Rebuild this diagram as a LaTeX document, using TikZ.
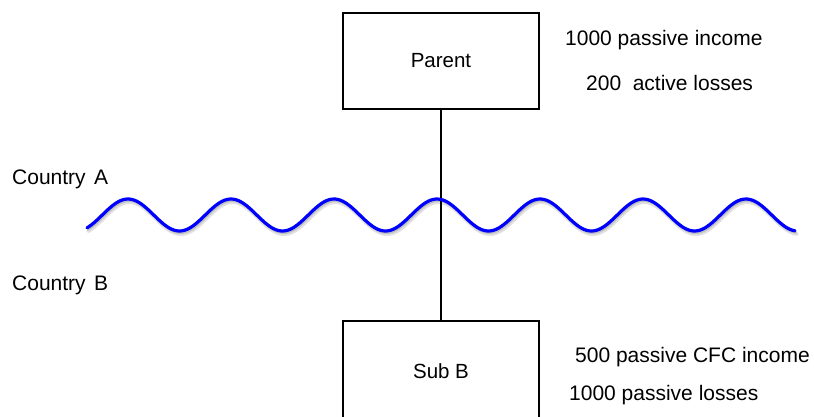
\documentclass[tikz,border=0pt]{standalone}
\usepackage{fontspec}
\setmainfont{Liberation Sans}
\begin{document}
\begin{tikzpicture}[x=1pt,y=-1pt,
  entity/.style={draw=black, line width=2pt, rectangle, minimum width=196pt, minimum height=96pt, inner sep=0pt, font=\fontsize{20.5}{24}\selectfont},
  note/.style={anchor=base west, inner sep=0pt, font=\fontsize{21}{25}\selectfont},
  link/.style={draw=black, line width=2pt},
  border/.style={draw=blue, line width=3.2pt, line cap=round, line join=round},
  bordershade/.style={draw=black, line width=4pt, line cap=round, opacity=0.12}]
  % canvas
  \useasboundingbox (0,0) rectangle (814,416);
  \clip (0,0) rectangle (814,416);

  % companies (the subsidiary box runs past the lower edge)
  \node[entity] (parent) at (441,60.7) {Parent};
  \node[entity, minimum height=100pt] (sub) at (441,370.7) {Sub B};

  % ownership link
  \draw[link] (parent.south) -- (sub.north);

  % border between the two countries, with a soft shadow (period 103, i.e. 360/103 deg per unit)
  \draw[bordershade, shift={(1.5,3)}] plot[domain=87:795, samples=300] (\x, {215-16*cos(3.49515*(\x-437))});
  \draw[bordershade, line width=2pt, opacity=0.15, shift={(1,2)}] plot[domain=87:795, samples=300] (\x, {215-16*cos(3.49515*(\x-437))});
  \draw[border] plot[domain=87:795, samples=300] (\x, {215-16*cos(3.49515*(\x-437))});

  % country labels
  \node[note] (ca) at (12,184) {Country\hspace{0.4em}A};
  \node[note] (cb) at (12,290) {Country\hspace{0.4em}B};

  % parent figures
  \node[note] (pi) at (565,45) {1000 passive income};
  \node[note] (pl) at (586,90) {200\hspace{0.55em}active losses};

  % subsidiary figures
  \node[note] (si) at (575,362) {500 passive CFC income};
  \node[note] (sl) at (569,400) {1000 passive losses};
\end{tikzpicture}
\end{document}
